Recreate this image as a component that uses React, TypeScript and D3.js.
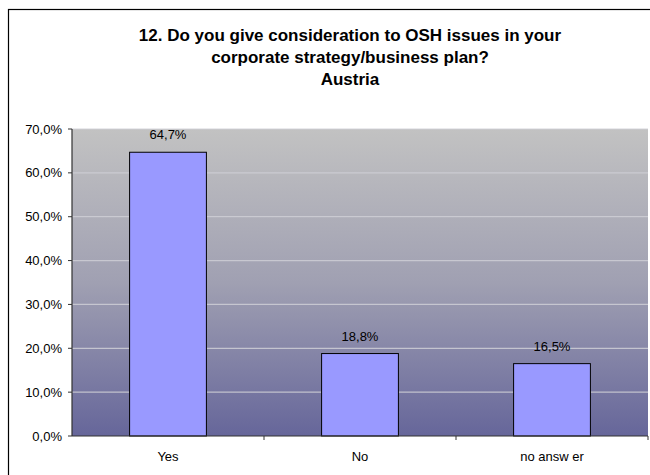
import React from "react";
import * as d3 from "d3";

const categories = ["Yes", "No", "no answ er"];
const values = [64.7, 18.8, 16.5];
const valueLabels = ["64,7%", "18,8%", "16,5%"];
const yTicks = [0, 10, 20, 30, 40, 50, 60, 70];
const titleLines = [
  "12. Do you give consideration to OSH issues in your",
  "corporate strategy/business plan?",
  "Austria",
];

const W = 650;
const H = 475;
const plot = { left: 72, right: 648, top: 129, bottom: 436 };

export default function App() {
  const x = d3
    .scaleBand<string>()
    .domain(categories)
    .range([plot.left, plot.right])
    .paddingInner(0.6)
    .paddingOuter(0.3);
  const y = d3.scaleLinear().domain([0, 70]).range([plot.bottom, plot.top]);
  const fmt = (v: number) => v.toFixed(1).replace(".", ",") + "%";
  const font = "Arial, 'Liberation Sans', sans-serif";

  return (
    <div style={{ position: "fixed", left: 0, top: 0, width: W, height: H, background: "#fff" }}>
      <svg width={W} height={H} style={{ display: "block", fontFamily: font }}>
        <defs>
          <linearGradient id="bg" x1="0" y1="0" x2="0" y2="1">
            <stop offset="0%" stopColor="#c2c2c2" />
            <stop offset="50%" stopColor="#a0a0b2" />
            <stop offset="100%" stopColor="#66669a" />
          </linearGradient>
        </defs>
        <rect x={8.5} y={9.5} width={W} height={H} fill="none" stroke="#000" strokeWidth={1.2} />
        {titleLines.map((t, i) => (
          <text
            key={i}
            x={350}
            y={41 + i * 22}
            textAnchor="middle"
            fontSize={17}
            fontWeight="bold"
            fill="#000"
          >
            {t}
          </text>
        ))}
        <rect
          x={plot.left}
          y={plot.top}
          width={plot.right - plot.left}
          height={plot.bottom - plot.top}
          fill="url(#bg)"
        />
        {yTicks.slice(1).map((t) => (
          <line
            key={t}
            x1={plot.left}
            x2={plot.right}
            y1={y(t)}
            y2={y(t)}
            stroke="#cfcfd6"
            strokeWidth={1.2}
            opacity={0.85}
          />
        ))}
        {categories.map((c, i) => (
          <g key={c}>
            <rect
              x={x(c)!}
              y={y(values[i])}
              width={x.bandwidth()}
              height={y(0) - y(values[i])}
              fill="#9999ff"
              stroke="#000"
              strokeWidth={1}
            />
            <text
              x={x(c)! + x.bandwidth() / 2}
              y={y(values[i]) - 13}
              textAnchor="middle"
              fontSize={13}
              fill="#000"
            >
              {valueLabels[i]}
            </text>
            <text
              x={x(c)! + x.bandwidth() / 2}
              y={461}
              textAnchor="middle"
              fontSize={13}
              fill="#000"
            >
              {c}
            </text>
          </g>
        ))}
        <line x1={plot.left} x2={plot.left} y1={plot.top} y2={plot.bottom} stroke="#333" strokeWidth={1.2} />
        <line x1={plot.left} x2={plot.right} y1={plot.bottom} y2={plot.bottom} stroke="#333" strokeWidth={1.2} />
        {yTicks.map((t) => (
          <g key={t}>
            <line x1={plot.left - 4} x2={plot.left} y1={y(t)} y2={y(t)} stroke="#333" />
            <text x={62} y={y(t) + 4.6} textAnchor="end" fontSize={13} fill="#000">
              {fmt(t)}
            </text>
          </g>
        ))}
        {categories.map((c, i) => (
          <line
            key={"xt" + i}
            x1={plot.left + (i + 1) * ((plot.right - plot.left) / 3)}
            x2={plot.left + (i + 1) * ((plot.right - plot.left) / 3)}
            y1={plot.bottom}
            y2={plot.bottom + 4}
            stroke="#333"
          />
        ))}
      </svg>
    </div>
  );
}
